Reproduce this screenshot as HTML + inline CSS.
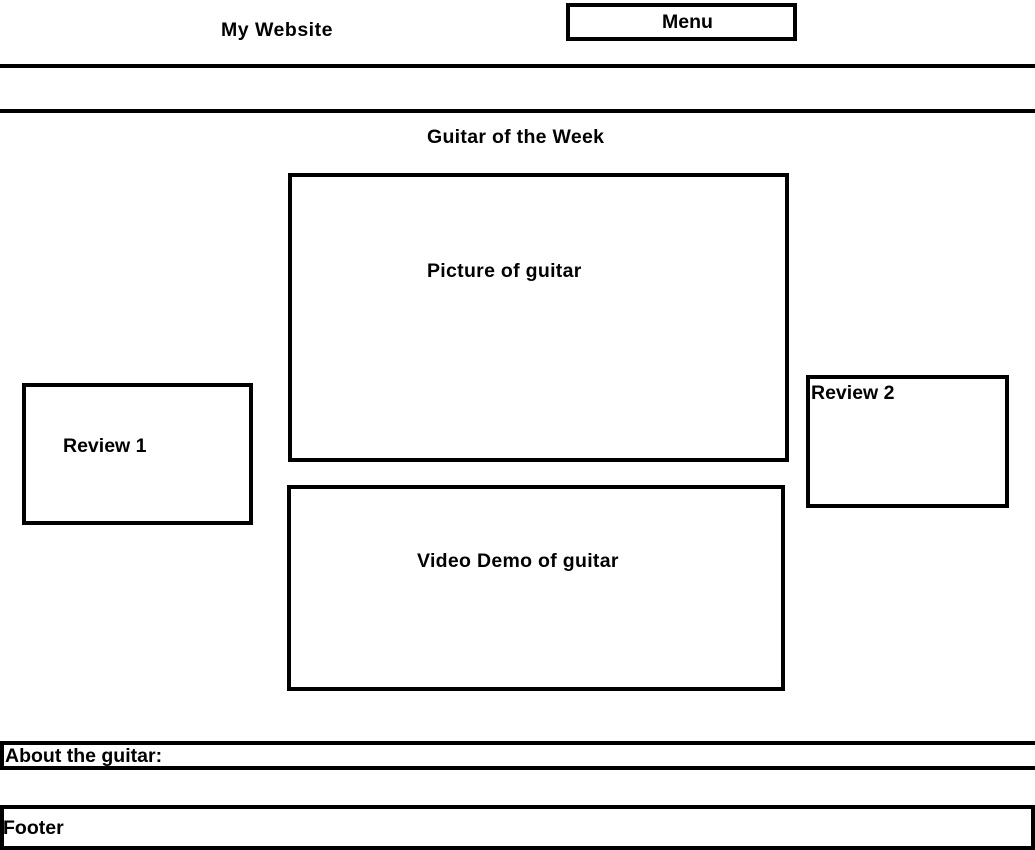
<!DOCTYPE html>
<html><head><meta charset="utf-8"><style>
body{margin:0;width:1035px;height:841px;position:relative;overflow:hidden;background:#fff;font-family:"Liberation Sans",sans-serif;font-weight:bold;font-size:19.5px;color:#000}
.b{position:absolute;border:4px solid #000;box-sizing:border-box}
.t{position:absolute;line-height:22px;white-space:nowrap}
.l{position:absolute;left:0;width:1035px;height:4px;background:#000}
</style></head><body>
<div class="t" style="left:221px;top:19px;letter-spacing:0.5px">My Website</div>
<div class="b" style="left:566px;top:3px;width:231px;height:38px"></div>
<div class="t" style="left:662px;top:11px">Menu</div>
<div class="l" style="top:64px"></div>
<div class="l" style="top:109px"></div>
<div class="t" style="left:427px;top:126px;letter-spacing:0.3px">Guitar of the Week</div>
<div class="b" style="left:288px;top:173px;width:501px;height:289px"></div>
<div class="t" style="left:427px;top:260px;letter-spacing:0.3px">Picture of guitar</div>
<div class="b" style="left:22px;top:383px;width:231px;height:142px"></div>
<div class="t" style="left:63px;top:435px">Review 1</div>
<div class="b" style="left:806px;top:375px;width:203px;height:133px"></div>
<div class="t" style="left:811px;top:382px">Review 2</div>
<div class="b" style="left:287px;top:485px;width:498px;height:206px"></div>
<div class="t" style="left:417px;top:550px;letter-spacing:0.3px">Video Demo of guitar</div>
<div class="b" style="left:0;top:741px;width:1040px;height:29px"></div>
<div class="t" style="left:5px;top:745px">About the guitar:</div>
<div class="b" style="left:0;top:805px;width:1035px;height:45px"></div>
<div class="t" style="left:3px;top:817px">Footer</div>
</body></html>
